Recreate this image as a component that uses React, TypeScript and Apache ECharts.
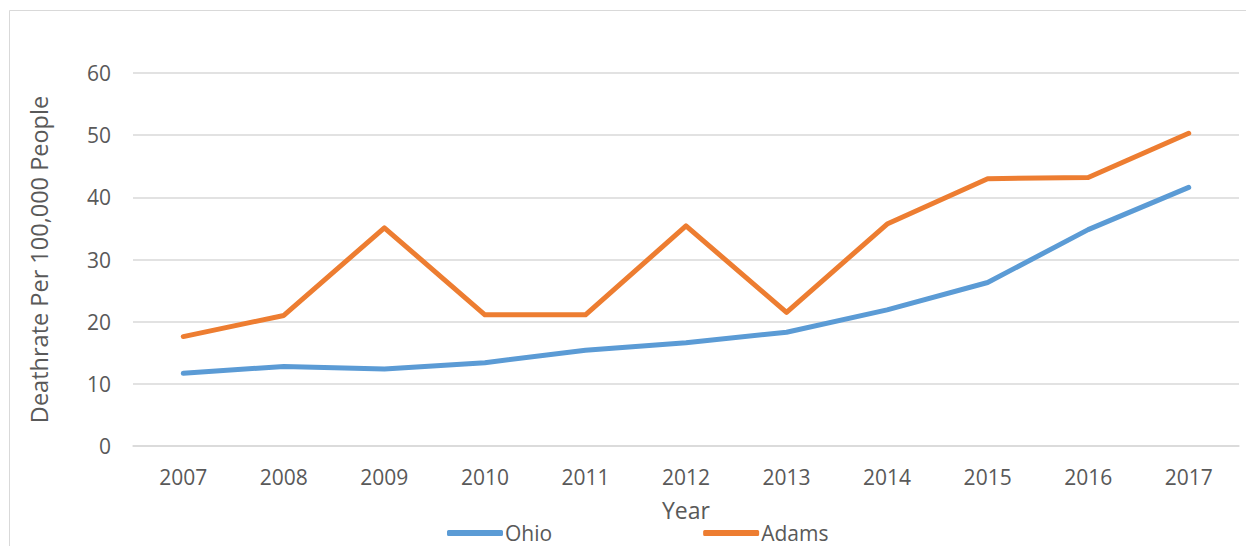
import React, { useEffect, useRef } from "react";
import * as echarts from "echarts";

const years = ["2007", "2008", "2009", "2010", "2011", "2012", "2013", "2014", "2015", "2016", "2017"];
const ohio = [11.7, 12.8, 12.4, 13.4, 15.4, 16.6, 18.3, 21.9, 26.3, 34.8, 41.6];
const adams = [17.6, 21.0, 35.1, 21.1, 21.1, 35.4, 21.5, 35.7, 43.0, 43.2, 50.3];

const FONT = "'Open Sans', 'Noto Sans', sans-serif";
const TXT = "#595959";

export default function App() {
  const ref = useRef<HTMLDivElement>(null);
  useEffect(() => {
    document.body.style.margin = "0";
    const chart = echarts.init(ref.current!, null, { renderer: "svg" });
    chart.setOption({
      animation: false,
      backgroundColor: "#ffffff",
      textStyle: { fontFamily: FONT },
      graphic: [
        {
          type: "rect",
          shape: { x: 9.5, y: 10.5, width: 1300, height: 600 },
          style: { fill: "none", stroke: "#d9d9d9", lineWidth: 1 },
          silent: true,
        },
      ],
      grid: { left: 133, right: 7, top: 73, bottom: 100, containLabel: false },
      legend: {
        left: 442,
        top: 521,
        padding: [0, 5, 0, 5],
        itemWidth: 56,
        itemHeight: 6,
        itemGap: 151,
        icon: "roundRect",
        textStyle: { fontFamily: FONT, fontSize: 21, lineHeight: 24, color: TXT, padding: [0, 0, 0, -3] },
        data: ["Ohio", "Adams"],
      },
      xAxis: {
        type: "category",
        data: years,
        boundaryGap: true,
        name: "Year",
        nameLocation: "middle",
        nameGap: 52,
        nameTextStyle: { fontFamily: FONT, fontSize: 23, color: TXT },
        axisLine: { show: true, lineStyle: { color: "#d9d9d9", width: 1.5 } },
        axisTick: { show: false },
        axisLabel: { fontFamily: FONT, fontSize: 21, color: TXT, margin: 20 },
      },
      yAxis: {
        type: "value",
        min: 0,
        max: 60,
        interval: 10,
        name: "Deathrate Per 100,000 People",
        nameLocation: "middle",
        nameGap: 82,
        nameTextStyle: { fontFamily: FONT, fontSize: 23.5, color: TXT },
        axisLine: { show: false },
        axisTick: { show: false },
        axisLabel: { fontFamily: FONT, fontSize: 21, color: TXT, margin: 22 },
        splitLine: { lineStyle: { color: "#d9d9d9", width: 1.5 } },
      },
      series: [
        {
          name: "Ohio",
          type: "line",
          data: ohio,
          symbol: "none",
          color: "#5b9bd5",
          lineStyle: { width: 5, color: "#5b9bd5", cap: "round", join: "round" },
        },
        {
          name: "Adams",
          type: "line",
          data: adams,
          symbol: "none",
          color: "#ed7d31",
          lineStyle: { width: 5, color: "#ed7d31", cap: "round", join: "round" },
        },
      ],
    });
    return () => chart.dispose();
  }, []);
  return <div ref={ref} style={{ width: 1246, height: 546 }} />;
}
